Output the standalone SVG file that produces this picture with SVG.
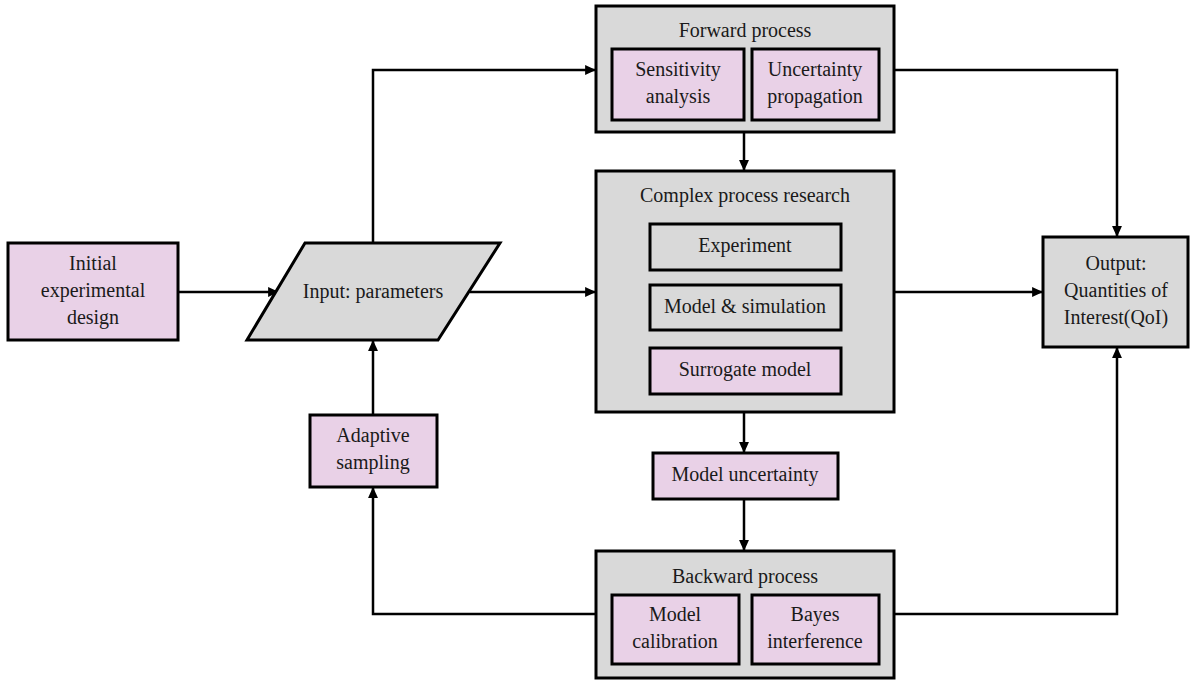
<svg xmlns="http://www.w3.org/2000/svg" width="1190" height="680" viewBox="0 0 1190 680">
<style>
.g{fill:#d9d9d9;stroke:#000;stroke-width:3}
.p{fill:#e9d1e7;stroke:#000;stroke-width:3}
text{font-size:20px;fill:#1a1a1a;text-anchor:middle}
.c{fill:none;stroke:#000;stroke-width:2.5}
</style>
<defs>
<marker id="a" viewBox="0 0 10 10" refX="9" refY="5" markerWidth="11" markerHeight="11" markerUnits="userSpaceOnUse" orient="auto"><path d="M0,0.5L10,5L0,9.5z" fill="#000"/></marker>
</defs>
<g id="connectors">
<path class="c" d="M178,292H278" marker-end="url(#a)"/>
<path class="c" d="M470,292H595" marker-end="url(#a)"/>
<path class="c" d="M373,243V70H595" marker-end="url(#a)"/>
<path class="c" d="M894,70H1117V236" marker-end="url(#a)"/>
<path class="c" d="M744,132V170" marker-end="url(#a)"/>
<path class="c" d="M894,292H1042" marker-end="url(#a)"/>
<path class="c" d="M744,270V284" marker-end="url(#a)"/>
<path class="c" d="M744,330V347" marker-end="url(#a)"/>
<path class="c" d="M744,412V452" marker-end="url(#a)"/>
<path class="c" d="M744,499V550" marker-end="url(#a)"/>
<path class="c" d="M894,614H1117V348" marker-end="url(#a)"/>
<path class="c" d="M596,614H373V488" marker-end="url(#a)"/>
<path class="c" d="M373,415V341" marker-end="url(#a)"/>
</g>
<g font-family="Liberation Serif, Tinos, Times New Roman, DejaVu Serif, serif">
<g id="initial"><rect class="p" x="8" y="243" width="170" height="97"/><text x="93" y="270">Initial</text><text x="93" y="297">experimental</text><text x="93" y="324">design</text></g>
<g id="input"><path class="g" d="M305,243H500L438,340H247z"/><text x="373" y="298">Input: parameters</text></g>
<g id="forward"><rect class="g" x="596" y="6" width="298" height="126"/><text x="745" y="37">Forward process</text>
<g id="sensitivity"><rect class="p" x="612" y="49" width="132" height="71"/><text x="678" y="76">Sensitivity</text><text x="678" y="103">analysis</text></g>
<g id="propagation"><rect class="p" x="752" y="49" width="127" height="71"/><text x="815" y="76">Uncertainty</text><text x="815" y="103">propagation</text></g></g>
<g id="complex"><rect class="g" x="596" y="171" width="298" height="241"/><text x="745" y="202">Complex process research</text>
<g id="experiment"><rect class="g" x="650" y="224" width="191" height="46"/><text x="745" y="252">Experiment</text></g>
<g id="model"><rect class="g" x="650" y="285" width="191" height="45"/><text x="745" y="313">Model &amp; simulation</text></g>
<g id="surrogate"><rect class="p" x="650" y="348" width="191" height="46"/><text x="745" y="376">Surrogate model</text></g></g>
<g id="uncertainty"><rect class="p" x="653" y="453" width="185" height="46"/><text x="745" y="481">Model uncertainty</text></g>
<g id="backward"><rect class="g" x="596" y="551" width="298" height="127"/><text x="745" y="583">Backward process</text>
<g id="calibration"><rect class="p" x="612" y="595" width="127" height="69"/><text x="675" y="621">Model</text><text x="675" y="648">calibration</text></g>
<g id="bayes"><rect class="p" x="752" y="595" width="127" height="69"/><text x="815" y="621">Bayes</text><text x="815" y="648">interference</text></g></g>
<g id="adaptive"><rect class="p" x="310" y="415" width="127" height="72"/><text x="373" y="442">Adaptive</text><text x="373" y="469">sampling</text></g>
<g id="output"><rect class="g" x="1043" y="237" width="145" height="110"/><text x="1116" y="270">Output:</text><text x="1116" y="297">Quantities of</text><text x="1116" y="324">Interest(QoI)</text></g>
</g>
</svg>
